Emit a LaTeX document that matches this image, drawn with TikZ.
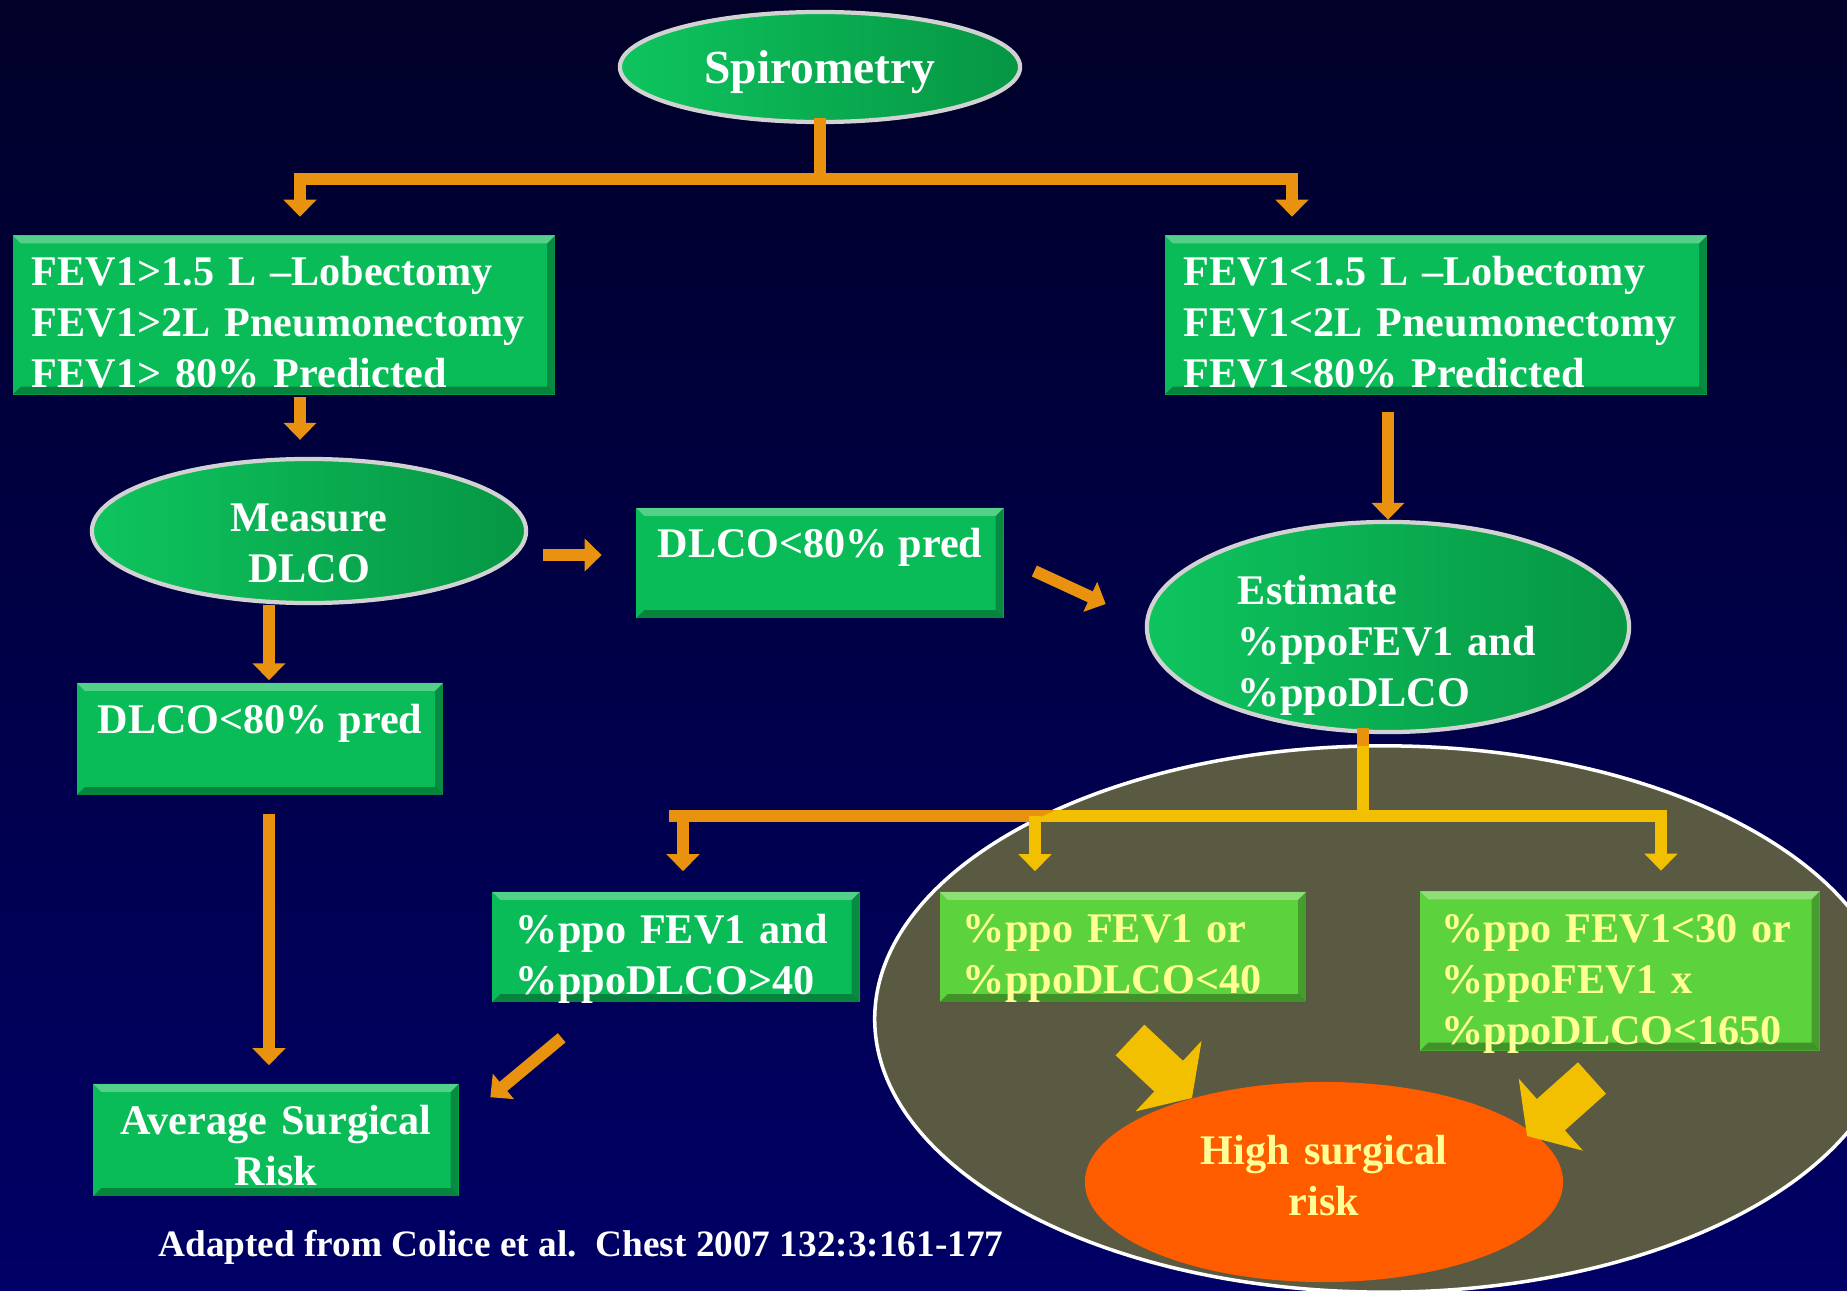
\documentclass[tikz,border=0pt]{standalone}
\usepackage{fontspec}
\setmainfont{Liberation Serif}
\usetikzlibrary{arrows.meta,shapes.geometric}

\definecolor{bgtop}{RGB}{0,0,40}
\definecolor{bgbot}{RGB}{0,0,102}
\definecolor{boxgreen}{RGB}{10,188,88}
\definecolor{greenlt}{RGB}{14,196,94}
\definecolor{greendk}{RGB}{6,150,68}
\definecolor{limegreen}{RGB}{92,210,60}
\definecolor{paleyel}{RGB}{255,255,150}
\definecolor{barorange}{RGB}{232,146,16}
\definecolor{bargold}{RGB}{242,192,0}
\definecolor{riskzone}{RGB}{90,89,66}
\definecolor{riskorange}{RGB}{255,92,0}

\tikzset{
  bevel/.style={path picture={
    \fill[white,opacity=0.3] (path picture bounding box.north west) -- (path picture bounding box.north east)
      -- ([shift={(-0.08cm,-0.08cm)}]path picture bounding box.north east) -- ([shift={(0.08cm,-0.08cm)}]path picture bounding box.north west) -- cycle;
    \fill[black,opacity=0.3] (path picture bounding box.south west) -- (path picture bounding box.south east)
      -- ([shift={(-0.08cm,0.08cm)}]path picture bounding box.south east) -- ([shift={(0.08cm,0.08cm)}]path picture bounding box.south west) -- cycle;
    \fill[black,opacity=0.25] (path picture bounding box.north east) -- (path picture bounding box.south east)
      -- ([shift={(-0.08cm,0.08cm)}]path picture bounding box.south east) -- ([shift={(-0.08cm,-0.08cm)}]path picture bounding box.north east) -- cycle;
  }}
}

\begin{document}
\begin{tikzpicture}[x=0.01cm, y=-0.01cm,
  txt/.style={font=\fontsize{12}{14.5}\selectfont\bfseries, text=white},
  gbox/.style={txt, rectangle, fill=boxgreen, bevel, inner sep=0pt},
  lbox/.style={gbox, fill=limegreen, text=paleyel},
  gell/.style={txt, ellipse, draw=gray!35, line width=1.2pt, left color=greenlt, right color=greendk, inner sep=0pt},
  bar/.style={barorange, line width=0.12cm, line cap=rect},
  barar/.style={barorange, line width=0.12cm, -{Triangle[width=0.32cm,length=0.17cm]}},
  fat/.style={bargold, line width=0.42cm, -{Triangle[width=0.95cm,length=0.32cm]}}
]
  \useasboundingbox (0,0) rectangle (1847,1291);
  \clip (0,0) rectangle (1847,1291);
  \fill[top color=bgtop, bottom color=bgbot] (0,0) rectangle (1847,1291);

  % high risk zone
  \fill[riskzone, draw=white, line width=1pt] (1384,1019) ellipse [x radius=5.09cm, y radius=2.73cm];

  \node[gell, minimum width=4.0cm, minimum height=1.1cm, text height=0.40cm, text depth=0.08cm,
    font=\fontsize{13.5}{16}\selectfont\bfseries] (spiro) at (820,67) {Spirometry};

  \node[gbox, minimum width=5.42cm, minimum height=1.59cm, text width=5.04cm, align=left,
    text height=0.37cm, text depth=0.95cm] (fevhi) at (284,315)
    {FEV1>1.5 L –Lobectomy\\FEV1>2L Pneumonectomy\\FEV1> 80\% Predicted};
  \node[gbox, minimum width=5.42cm, minimum height=1.59cm, text width=5.04cm, align=left,
    text height=0.37cm, text depth=0.95cm] (fevlo) at (1436,315)
    {FEV1<1.5 L –Lobectomy\\FEV1<2L Pneumonectomy\\FEV1<80\% Predicted};

  \node[gell, minimum width=4.34cm, minimum height=1.44cm, text width=2.5cm, align=center,
    text height=0.40cm, text depth=0.395cm] (measure) at (309,531) {Measure\\DLCO};
  \node[gbox, minimum width=3.67cm, minimum height=1.10cm, text height=0.30cm, text depth=0.40cm] (dlcomid) at (820,563)
    {DLCO<80\% pred};
  \node[gell, minimum width=4.82cm, minimum height=2.10cm, text width=3.0cm, align=left,
    text height=0.48cm, text depth=0.92cm] (estimate) at (1388,627)
    {Estimate\\\%ppoFEV1 and\\\%ppoDLCO};
  \node[gbox, minimum width=3.66cm, minimum height=1.12cm, text height=0.30cm, text depth=0.40cm] (dlcoleft) at (260,739)
    {DLCO<80\% pred};
  \node[gbox, minimum width=3.65cm, minimum height=1.12cm, text width=3.4cm, align=center,
    text height=0.35cm, text depth=0.455cm] (avgrisk) at (276,1140) {Average Surgical\\Risk};

  \node[gbox, minimum width=3.67cm, minimum height=1.10cm, text width=3.2cm, align=left,
    text height=0.40cm, text depth=0.47cm] (ppohi) at (676,947)
    {\%ppo FEV1 and\\\%ppoDLCO>40};
  \node[lbox, minimum width=3.66cm, minimum height=1.10cm, text width=3.2cm, align=left,
    text height=0.39cm, text depth=0.48cm] (ppomid) at (1123,947)
    {\%ppo FEV1 or\\\%ppoDLCO<40};
  \node[lbox, minimum width=3.99cm, minimum height=1.59cm, text width=3.57cm, align=left,
    text height=0.44cm, text depth=1.00cm] (ppolow) at (1620,971)
    {\%ppo FEV1<30 or\\\%ppoFEV1 x\\\%ppoDLCO<1650};

  \node[txt, ellipse, fill=riskorange, text=paleyel, minimum width=4.78cm, minimum height=2.0cm, inner sep=0pt,
    text width=3.0cm, align=center, text height=0.23cm, text depth=0.575cm] (highrisk) at (1324,1182)
    {High surgical\\risk};

  \node[anchor=west, font=\fontsize{10.6}{12}\selectfont\bfseries, text=white] (cite) at (146,1247)
    {Adapted from Colice et al.\ \ Chest 2007 132:3:161-177};

  % first split
  \coordinate (tl) at (300,179);
  \coordinate (tr) at (1292,179);
  \draw[bar] (spiro.south) -- (spiro.south |- tl);
  \draw[bar] (tl) -- (tr);
  \draw[barar, shorten >=0.18cm] (tl) -- (tl |- fevhi.north);
  \draw[barar, shorten >=0.18cm] (tr) -- (tr |- fevlo.north);

  \draw[barar, shorten <=0.02cm, shorten >=0.17cm] (fevhi.south -| tl) -- (measure.north -| tl);
  \draw[barar, shorten <=0.17cm] (fevlo.south -| estimate.north) -- (estimate.north);
  \draw[barar, shorten <=0.15cm, shorten >=0.34cm] ([yshift=0.08cm]measure.east |- dlcomid) -- ([yshift=0.08cm]dlcomid.west);
  \draw[barar] ([xshift=0.3cm,yshift=-0.08cm]dlcomid.east) -- ([xshift=-0.39cm,yshift=0.23cm]estimate.west);

  \coordinate (lc) at (269,813);
  \draw[barar, shorten >=0.02cm] (measure.south -| lc) -- (dlcoleft.north -| lc);
  \draw[barar, shorten <=0.18cm, shorten >=0.18cm] (dlcoleft.south -| lc) -- (avgrisk.north -| lc);
  \draw[barar] ([xshift=0.7cm,yshift=-0.35cm]ppohi.south west) -- ([xshift=0.31cm,yshift=-0.14cm]avgrisk.north east);

  % second split
  \coordinate (j2) at (1363,816);
  \coordinate (bl) at (683,816);
  \coordinate (bm) at (1035,816);
  \coordinate (br) at (1661,816);
  \draw[bar] (estimate.south -| j2) -- (j2);
  \draw[bar] ([xshift=-0.08cm]bl) -- (br);
  \begin{scope}
    \clip (1384,1019) ellipse [x radius=5.09cm, y radius=2.73cm];
    \draw[bar, bargold] (estimate.south -| j2) -- (j2);
    \draw[bar, bargold] ([xshift=-0.08cm]bl) -- (br);
  \end{scope}
  \draw[barar, shorten >=0.2cm] (bl) -- (bl |- ppohi.north);
  \draw[barar, bargold, shorten >=0.2cm] (bm) -- (bm |- ppomid.north);
  \draw[barar, bargold, shorten >=0.2cm] (br) -- (br |- ppolow.north);

  \coordinate (fa) at (1130,1040);
  \coordinate (fb) at (1192,1098);
  \coordinate (ga) at (1592,1078);
  \coordinate (gb) at (1527,1136);
  \draw[fat] (fa) -- (fb);
  \draw[fat] (ga) -- (gb);
\end{tikzpicture}
\end{document}
